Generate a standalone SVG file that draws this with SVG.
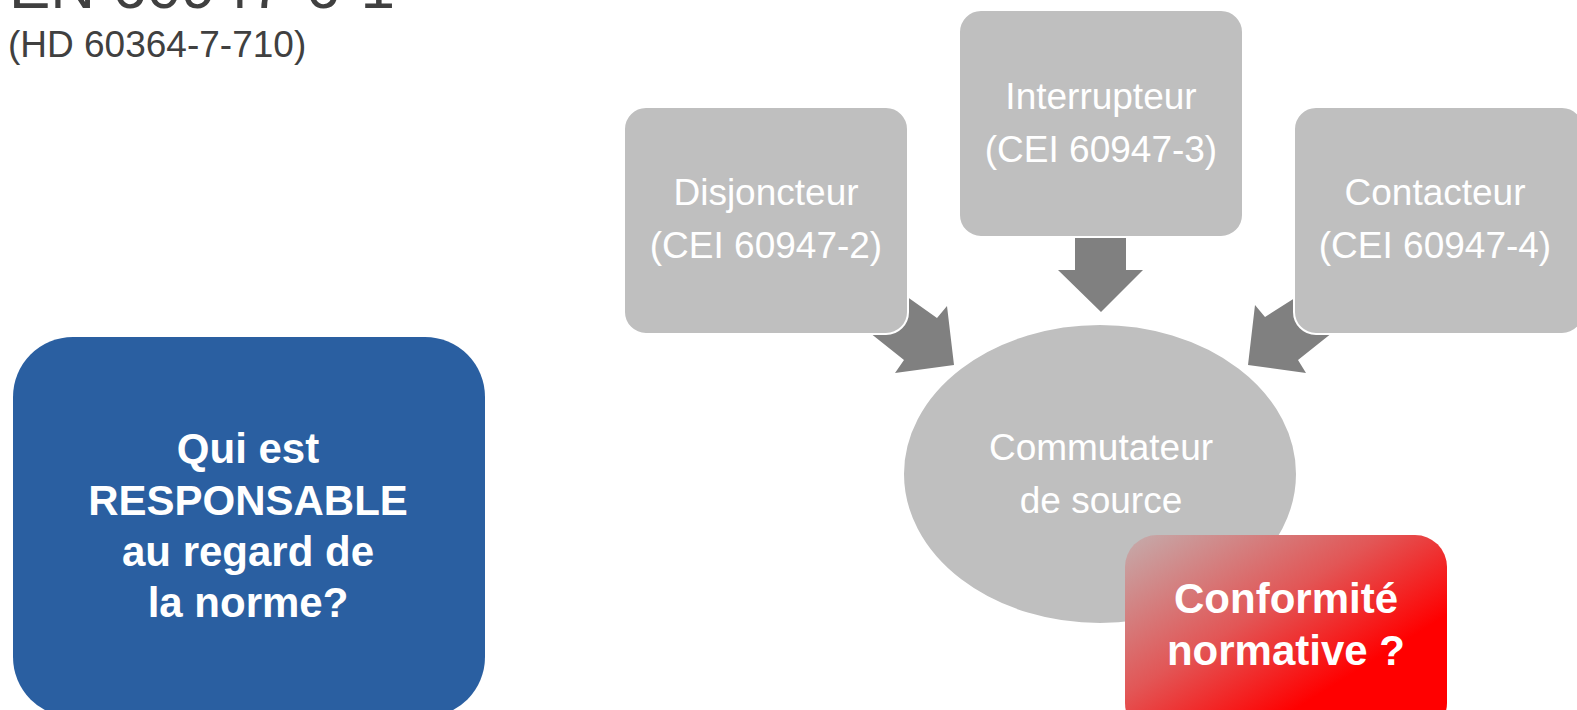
<svg xmlns="http://www.w3.org/2000/svg" width="1577" height="710" viewBox="0 0 1577 710">
  <defs>
    <style>
      .bg { fill: #FFFFFF; }
      .title { font-family: "Liberation Sans", Arial, sans-serif; fill: #404040; }
      .gbox { fill: #BFBFBF; stroke: #FFFFFF; stroke-width: 2; }
      .gtxt { font-family: "Liberation Sans", Arial, sans-serif; font-size: 37px; fill: #FFFFFF; text-anchor: middle; }
      .btxt { font-family: "Liberation Sans", Arial, sans-serif; font-size: 42px; font-weight: bold; fill: #FFFFFF; text-anchor: middle; }
      .arrow { fill: #808080; }
    </style>
    <linearGradient id="redGrad" x1="0" y1="0" x2="1" y2="1">
      <stop offset="0" stop-color="#C4ADAD"/>
      <stop offset="0.4" stop-color="#E25656"/>
      <stop offset="0.7" stop-color="#FF0000"/>
      <stop offset="1" stop-color="#FF0000"/>
    </linearGradient>
  </defs>
  <rect class="bg" x="0" y="0" width="1577" height="710"/>

  <g id="title">
    <text class="title" x="9" y="8" font-size="62">EN 60947-6-1</text>
    <text class="title" x="8" y="57" font-size="37">(HD 60364-7-710)</text>
  </g>

  <g id="responsable">
    <rect x="13" y="337" width="472" height="380" rx="60" ry="60" fill="#2A5FA1"/>
    <text class="btxt" x="248" y="463">Qui est</text>
    <text class="btxt" x="248" y="515">RESPONSABLE</text>
    <text class="btxt" x="248" y="566">au regard de</text>
    <text class="btxt" x="248" y="617">la norme?</text>
  </g>

  <g id="connectors">
    <polygon class="arrow" points="882,279 937,318 947,306 954,365 895,373 904,360 850,317"/>
    <polygon class="arrow" points="1075,232 1126,232 1126,270 1143,270 1101,312 1058,270 1075,270"/>
    <polygon class="arrow" points="1320,282 1265,317 1255,305 1248,365 1306,373 1298,360 1352,317"/>
  </g>

  <g id="disjoncteur">
    <rect class="gbox" x="624" y="107" width="284" height="227" rx="22" ry="22"/>
    <text class="gtxt" x="766" y="205">Disjoncteur</text>
    <text class="gtxt" x="766" y="258">(CEI 60947-2)</text>
  </g>

  <g id="interrupteur">
    <rect class="gbox" x="959" y="10" width="284" height="227" rx="22" ry="22"/>
    <text class="gtxt" x="1101" y="109">Interrupteur</text>
    <text class="gtxt" x="1101" y="162">(CEI 60947-3)</text>
  </g>

  <g id="contacteur">
    <rect class="gbox" x="1294" y="107" width="290" height="227" rx="22" ry="22"/>
    <text class="gtxt" x="1435" y="205">Contacteur</text>
    <text class="gtxt" x="1435" y="258">(CEI 60947-4)</text>
  </g>

  <g id="commutateur">
    <ellipse class="gbox" cx="1100" cy="474" rx="197" ry="150"/>
    <text class="gtxt" x="1101" y="460">Commutateur</text>
    <text class="gtxt" x="1101" y="513">de source</text>
  </g>

  <g id="conformite">
    <rect x="1125" y="535" width="322" height="200" rx="32" ry="32" fill="url(#redGrad)"/>
    <text class="btxt" x="1286" y="613">Conformité</text>
    <text class="btxt" x="1286" y="665">normative ?</text>
  </g>
</svg>
